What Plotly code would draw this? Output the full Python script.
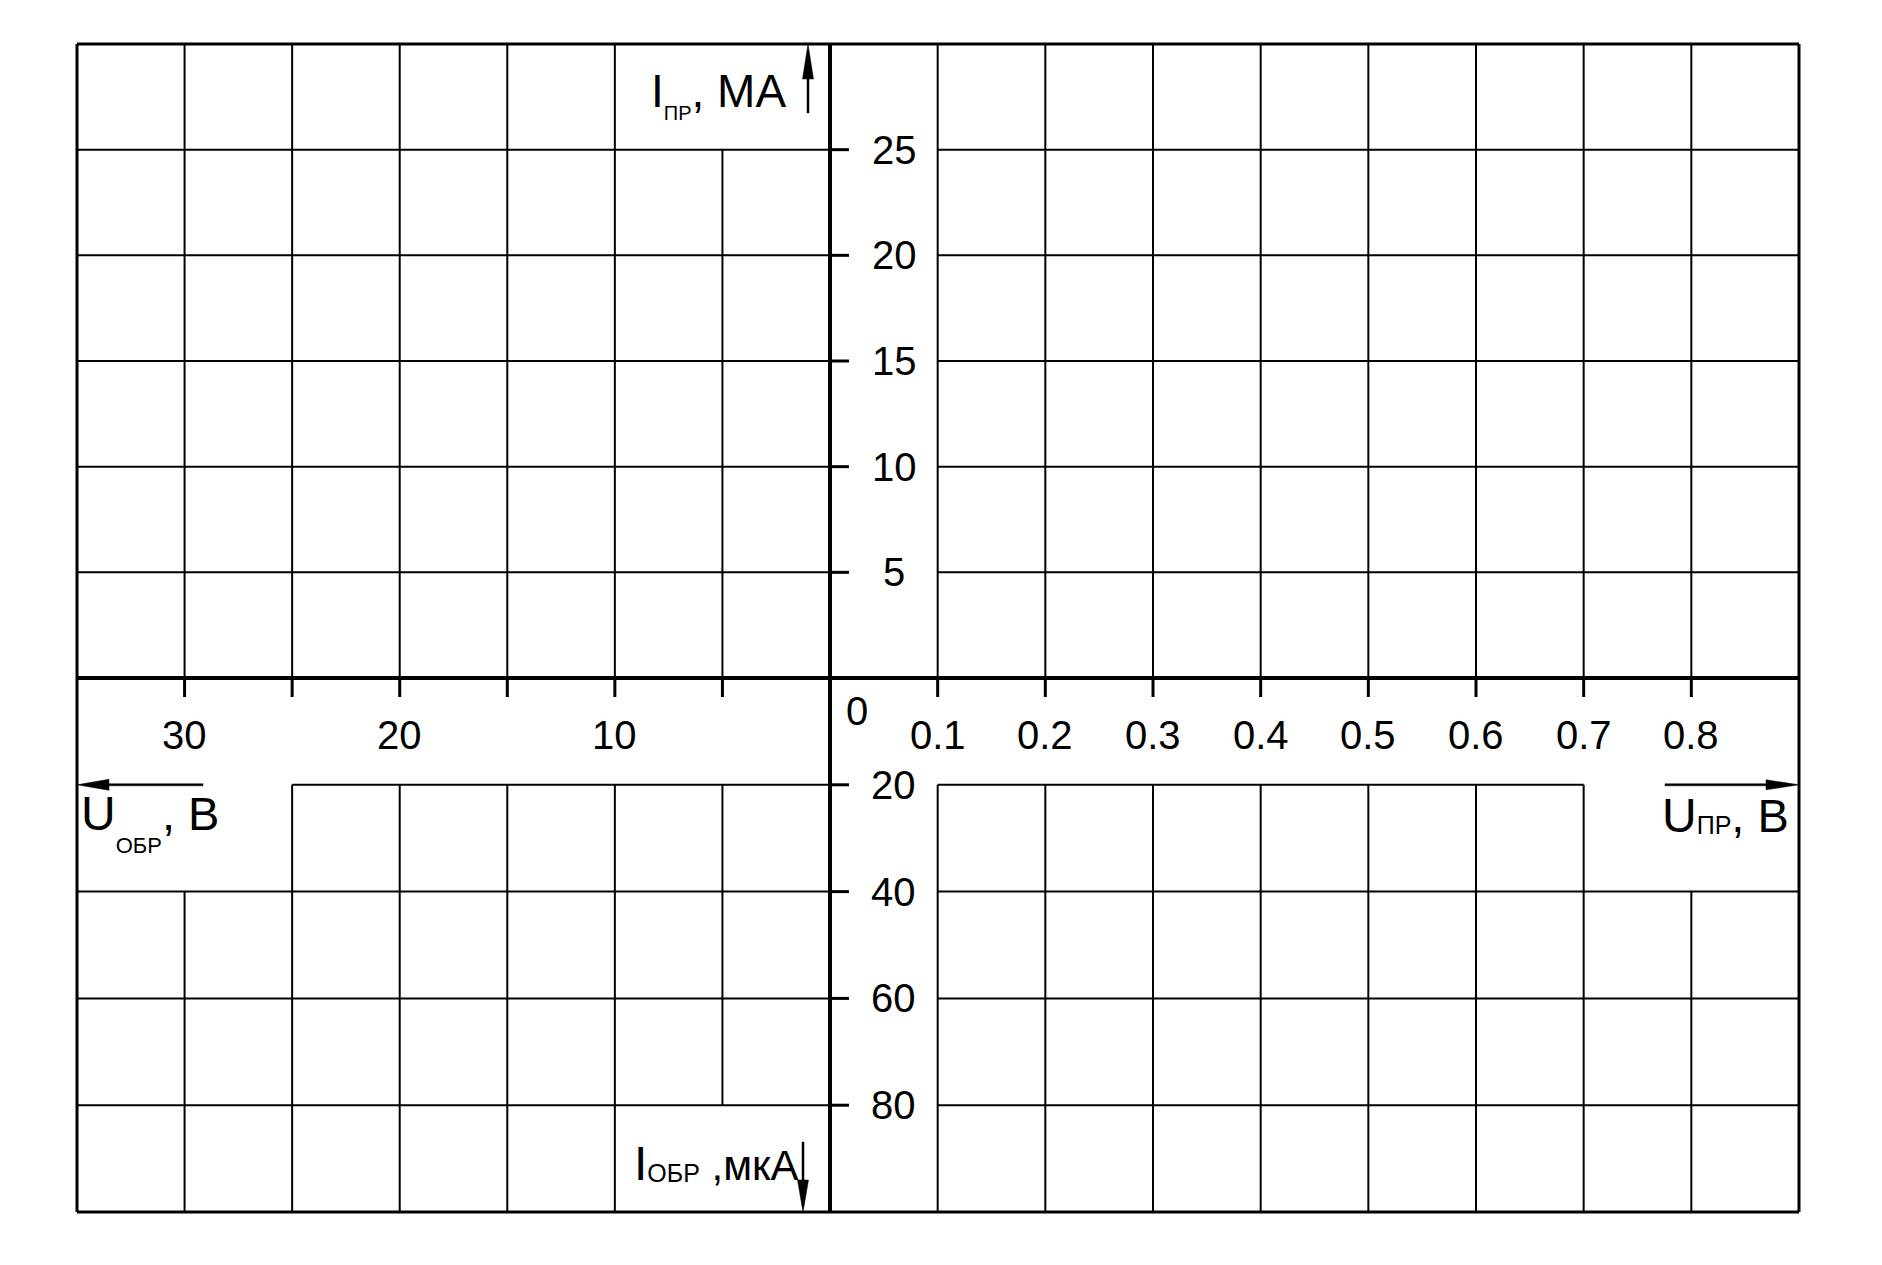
import plotly.graph_objects as go

# ---------------- data: scales of the blank diode I-V chart ----------------
u_fwd_ticks = [0.1, 0.2, 0.3, 0.4, 0.5, 0.6, 0.7, 0.8]      # U_пр, В
u_fwd_labels = ["0.1", "0.2", "0.3", "0.4", "0.5", "0.6", "0.7", "0.8"]
u_fwd_max = 0.9
u_rev_ticks = [5, 10, 15, 20, 25, 30]                        # U_обр, В
u_rev_labelled = [10, 20, 30]
u_rev_labels = ["10", "20", "30"]
u_rev_max = 35
i_fwd_ticks = [5, 10, 15, 20, 25]                            # I_пр, мА
i_fwd_labels = ["5", "10", "15", "20", "25"]
i_fwd_max = 30
i_rev_ticks = [20, 40, 60, 80]                               # I_обр, мкА
i_rev_labels = ["20", "40", "60", "80"]
i_rev_max = 100
origin_label = "0"

title_i_fwd = ("<span style='font-size:46px'>I</span><sub><span style='font-size:20px'>ПР</span></sub>"
               "<span style='font-size:46px'>, МА</span>")
title_i_rev = ("<span style='font-size:48px'>I</span><sub><span style='font-size:25px'>ОБР</span></sub>"
               "<span style='font-size:42px'> ,мкА</span>")
title_u_rev = ("<span style='font-size:48px'>U</span><sub><span style='font-size:22px'>ОБР</span></sub>"
               "<span style='font-size:47px'>, В</span>")
title_u_fwd = ("<span style='font-size:48px'>U</span><sub><span style='font-size:25px'>ПР</span></sub>"
               "<span style='font-size:47px'>, В</span>")

# ---------------- layout geometry (pixels) ----------------
W, H = 1882, 1265
OX, OY = 830, 678                 # origin
LEFT, RIGHT, TOP, BOTTOM = 77, 1799, 44, 1212

sx_f = (RIGHT - OX) / u_fwd_max
sx_r = (OX - LEFT) / u_rev_max
sy_f = (OY - TOP) / i_fwd_max
sy_r = (BOTTOM - OY) / i_rev_max

FONT = "Liberation Sans, Arial, Helvetica, sans-serif"
BLACK = "#000000"


def segs(pairs):
    xs, ys = [], []
    for (x0, y0), (x1, y1) in pairs:
        xs += [x0, x1, None]
        ys += [y0, y1, None]
    return xs, ys


fig = go.Figure()


def add_lines(pairs, xa, ya, width):
    xs, ys = segs(pairs)
    fig.add_trace(go.Scatter(x=xs, y=ys, xaxis=xa, yaxis=ya, mode="lines",
                             line=dict(color=BLACK, width=width),
                             hoverinfo="skip", showlegend=False))


# Quadrant I (forward voltage, forward current): x, y
grid1 = [((u, 0), (u, i_fwd_max)) for u in u_fwd_ticks] + \
        [((u_fwd_ticks[0], i), (u_fwd_max, i)) for i in i_fwd_ticks]
frame1 = [((0, i_fwd_max), (u_fwd_max, i_fwd_max)), ((u_fwd_max, 0), (u_fwd_max, i_fwd_max))]
axis1 = [((0, 0), (u_fwd_max, 0)), ((0, 0), (0, i_fwd_max))]

# Quadrant II (reverse voltage, forward current): x2, y
grid2 = [((u, 0), (u, i_fwd_ticks[-1] if u == u_rev_ticks[0] else i_fwd_max)) for u in u_rev_ticks] + \
        [((0, i), (u_rev_max, i)) for i in i_fwd_ticks]
frame2 = [((0, i_fwd_max), (u_rev_max, i_fwd_max)), ((u_rev_max, 0), (u_rev_max, i_fwd_max))]
axis2 = [((0, 0), (u_rev_max, 0))]


# Quadrant III (reverse voltage, reverse current): x2, y2
def q3_vertical(u):
    if u == u_rev_ticks[0]:
        return ((u, i_rev_ticks[0]), (u, i_rev_ticks[-1]))
    if u == u_rev_ticks[-1]:
        return ((u, i_rev_ticks[1]), (u, i_rev_max))
    return ((u, i_rev_ticks[0]), (u, i_rev_max))


grid3 = [q3_vertical(u) for u in u_rev_ticks] + \
        [((0, i), (u_rev_ticks[-2] if i == i_rev_ticks[0] else u_rev_max, i)) for i in i_rev_ticks]
frame3 = [((0, i_rev_max), (u_rev_max, i_rev_max)), ((u_rev_max, 0), (u_rev_max, i_rev_max))]

# Quadrant IV (forward voltage, reverse current): x, y2
grid4 = [((u, i_rev_ticks[1] if u == u_fwd_ticks[-1] else i_rev_ticks[0]), (u, i_rev_max)) for u in u_fwd_ticks] + \
        [((u_fwd_ticks[0], i), (u_fwd_ticks[-2] if i == i_rev_ticks[0] else u_fwd_max, i)) for i in i_rev_ticks]
frame4 = [((0, i_rev_max), (u_fwd_max, i_rev_max)), ((u_fwd_max, 0), (u_fwd_max, i_rev_max))]
axis4 = [((0, 0), (0, i_rev_max))]

add_lines(grid1, "x", "y", 2)
add_lines(grid2, "x2", "y", 2)
add_lines(grid3, "x2", "y2", 2)
add_lines(grid4, "x", "y2", 2)
add_lines(frame1, "x", "y", 3)
add_lines(frame2, "x2", "y", 3)
add_lines(frame3, "x2", "y2", 3)
add_lines(frame4, "x", "y2", 3)
add_lines(axis1, "x", "y", 4)
add_lines(axis2, "x2", "y", 4)
add_lines(axis4, "x", "y2", 4)

shapes = []
TICK = 19
for u in u_fwd_ticks:
    shapes.append(dict(type="line", xref="x", yref="y", ysizemode="pixel", yanchor=0,
                       x0=u, x1=u, y0=0, y1=-TICK, line=dict(color=BLACK, width=3)))
for u in u_rev_ticks:
    shapes.append(dict(type="line", xref="x2", yref="y", ysizemode="pixel", yanchor=0,
                       x0=u, x1=u, y0=0, y1=-TICK, line=dict(color=BLACK, width=3)))
for i in i_fwd_ticks:
    shapes.append(dict(type="line", xref="x", yref="y", xsizemode="pixel", xanchor=0,
                       x0=0, x1=TICK, y0=i, y1=i, line=dict(color=BLACK, width=3)))
for i in i_rev_ticks:
    shapes.append(dict(type="line", xref="x", yref="y2", xsizemode="pixel", xanchor=0,
                       x0=0, x1=TICK, y0=i, y1=i, line=dict(color=BLACK, width=3)))


def arrow(xref, yref, xa, ya, path):
    shapes.append(dict(type="path", xref=xref, yref=yref, xsizemode="pixel", ysizemode="pixel",
                       xanchor=xa, yanchor=ya, path=path, fillcolor=BLACK,
                       line=dict(color=BLACK, width=0.5)))


# up arrow (I_пр) at top frame, left of the current axis
arrow("x2", "y", 0, i_fwd_max,
      "M-22,0 L-16.5,-35 L-21,-35 L-21,-69 L-23,-69 L-23,-35 L-27.5,-35 Z")
# down arrow (I_обр) at bottom frame
arrow("x2", "y2", 0, i_rev_max,
      "M-27,0 L-21.5,32 L-26,32 L-26,70 L-28,70 L-28,32 L-32.5,32 Z")
# left arrow (U_обр)
arrow("x2", "y2", u_rev_max, i_rev_ticks[0],
      "M0,0 L32,5.5 L32,1 L126,1 L126,-1 L32,-1 L32,-5.5 Z")
# right arrow (U_пр)
arrow("x", "y2", u_fwd_max, i_rev_ticks[0],
      "M0,0 L-33,5 L-33,1 L-134,1 L-134,-1 L-33,-1 L-33,-5 Z")

ann = []
TF = dict(family=FONT, size=40, color=BLACK)
for u, t in zip(u_fwd_ticks, u_fwd_labels):
    ann.append(dict(x=u, y=0, xref="x", yref="y", text=t, showarrow=False,
                    xanchor="center", yanchor="middle", yshift=-57, font=TF))
for u, t in zip(u_rev_labelled, u_rev_labels):
    ann.append(dict(x=u, y=0, xref="x2", yref="y", text=t, showarrow=False,
                    xanchor="center", yanchor="middle", yshift=-57, font=TF))
ann.append(dict(x=0, y=0, xref="x", yref="y", text=origin_label, showarrow=False,
                xanchor="center", yanchor="middle", xshift=27, yshift=-33, font=TF))
for i, t in zip(i_fwd_ticks, i_fwd_labels):
    ann.append(dict(x=0, y=i, xref="x", yref="y", text=t, showarrow=False,
                    xanchor="center", yanchor="middle", xshift=64, font=TF))
for i, t in zip(i_rev_ticks, i_rev_labels):
    ann.append(dict(x=0, y=i, xref="x", yref="y2", text=t, showarrow=False,
                    xanchor="center", yanchor="middle", xshift=63, font=TF))

# base font size of each title sets how far its subscript drops
ann.append(dict(x=0, y=i_fwd_max, xref="x2", yref="y", text=title_i_fwd, showarrow=False,
                xanchor="left", yanchor="top", xshift=-181, yshift=-19,
                font=dict(family=FONT, size=62, color=BLACK)))
ann.append(dict(x=0, y=i_rev_max, xref="x2", yref="y2", text=title_i_rev, showarrow=False,
                xanchor="right", yanchor="bottom", xshift=-30, yshift=20,
                font=dict(family=FONT, size=8, color=BLACK)))
ann.append(dict(x=u_rev_max, y=i_rev_ticks[0], xref="x2", yref="y2", text=title_u_rev, showarrow=False,
                xanchor="left", yanchor="top", xshift=2, yshift=0,
                font=dict(family=FONT, size=110, color=BLACK)))
ann.append(dict(x=u_fwd_max, y=i_rev_ticks[0], xref="x", yref="y2", text=title_u_fwd, showarrow=False,
                xanchor="right", yanchor="top", xshift=-8, yshift=-2,
                font=dict(family=FONT, size=8, color=BLACK)))

hidden = dict(visible=False, showgrid=False, zeroline=False, fixedrange=True, domain=[0, 1])
fig.update_layout(
    width=W, height=H,
    margin=dict(l=0, r=0, t=0, b=0, pad=0),
    paper_bgcolor="white", plot_bgcolor="rgba(0,0,0,0)",
    font=dict(family=FONT, color=BLACK),
    showlegend=False,
    xaxis=dict(hidden, anchor="y", range=[-OX / sx_f, (W - OX) / sx_f]),
    xaxis2=dict(hidden, anchor="y2", range=[OX / sx_r, (OX - W) / sx_r]),
    yaxis=dict(hidden, anchor="x", range=[(OY - H) / sy_f, OY / sy_f]),
    yaxis2=dict(hidden, anchor="x2", range=[(H - OY) / sy_r, -OY / sy_r]),
    shapes=shapes,
    annotations=ann,
)

fig.write_html("out.html", config={"displayModeBar": False, "staticPlot": True},
               post_script="document.body.style.margin='0';")
